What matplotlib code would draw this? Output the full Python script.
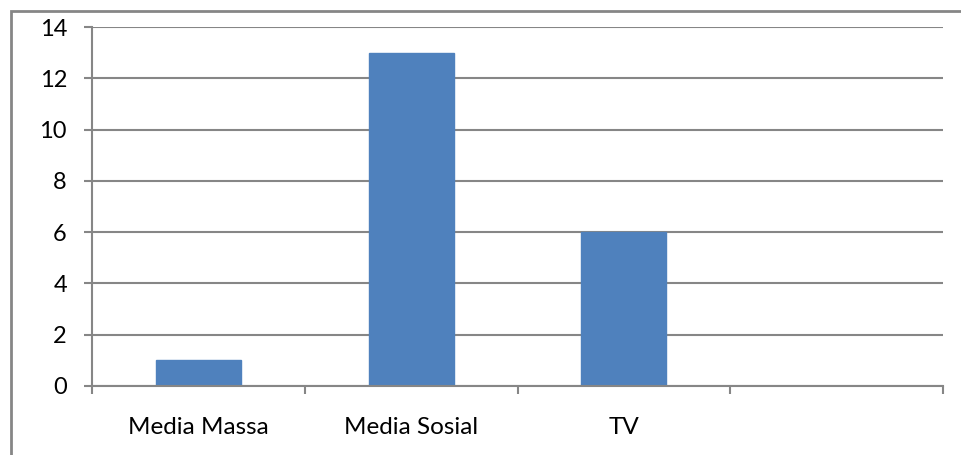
import matplotlib
matplotlib.use("Agg")
import matplotlib.pyplot as plt
import matplotlib.patches as mpatches
import numpy as np

categories = ["Media Massa", "Media Sosial", "TV", ""]
values = [1, 13, 6, np.nan]
yticks = [0, 2, 4, 6, 8, 10, 12, 14]

plt.rcParams['font.family'] = ['Lato', 'DejaVu Sans']

fig = plt.figure(figsize=(9.61, 4.55), dpi=100)
ax = fig.add_axes([92/961, 1-386/455, (943-92)/961, (386-27)/455])

x = np.arange(len(categories))
ax.bar(x, values, width=0.4, color="#4F81BD", edgecolor="#4F81BD", zorder=3)

ax.set_xlim(-0.5, len(categories) - 0.5)
ax.set_ylim(yticks[0], yticks[-1])
ax.set_yticks(yticks)
ax.set_yticklabels([str(v) for v in yticks], fontsize=17)
ax.set_xticks(x)
ax.set_xticklabels(categories, fontsize=17.5)
ax.set_xticks(np.arange(len(categories) + 1) - 0.5, minor=True)
ax.tick_params(axis='x', which='major', length=0, pad=22.5)
ax.tick_params(axis='x', which='minor', length=6, width=1.5, color="#868686")
ax.tick_params(axis='y', length=6, width=1.5, color="#868686", pad=12)
ax.yaxis.grid(True, color="#868686", linewidth=1.5, zorder=0)
ax.set_axisbelow(True)
for s in ['top', 'right']:
    ax.spines[s].set_visible(False)
for s in ['left', 'bottom']:
    ax.spines[s].set_color("#868686")
    ax.spines[s].set_linewidth(1.5)
    ax.spines[s].set_zorder(4)

border = mpatches.Rectangle((11/961, -0.1), 1.2, 1-11/455 + 0.1, transform=fig.transFigure,
                            fill=False, edgecolor="#868686", linewidth=2, clip_on=False)
fig.patches.append(border)

fig.savefig("out.png", dpi=100)
